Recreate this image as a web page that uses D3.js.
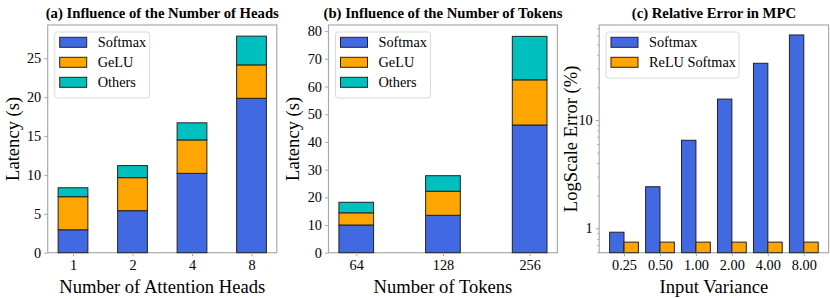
<!DOCTYPE html>
<html>
<head>
<meta charset="utf-8">
<script src="https://cdn.jsdelivr.net/npm/d3@7"></script>
<style>
  body { margin: 0; background: #fff; }
  text { font-family: "Liberation Serif", "Times New Roman", serif; fill: #000; }
</style>
</head>
<body>
<script>
const width = 830;
const height = 299;

// (a) heads
const heads = ['1', '2', '4', '8'];
const headSoftmax = [2.95, 5.4, 10.2, 19.85];
const headGelu = [4.25, 4.25, 4.3, 4.3];
const headOthers = [1.15, 1.55, 2.2, 3.7];

// (b) tokens
const tokens = ['64', '128', '256'];
const tokSoftmax = [10.0, 13.5, 46.1];
const tokGelu = [4.4, 8.7, 16.3];
const tokOthers = [3.8, 5.6, 15.7];

// (c) relative error
const variances = ['0.25', '0.50', '1.00', '2.00', '4.00', '8.00'];
const errSoftmax = [0.92, 2.42, 6.5, 15.6, 33.4, 61];
const errRelu = [0.745, 0.745, 0.745, 0.745, 0.745, 0.745];

const colors = { softmax: '#4169e1', gelu: '#ffa500', others: '#00bfbf' };
const spine = '#aaaaaa';
const edge = '#222';

const svg = d3.select('body').append('svg')
  .attr('width', width)
  .attr('height', height);

const yTop = 25;
const yBottom = 252.7;

function frame(g, x0, x1, title, xlabel, ylabel, ylabX) {
  g.append('rect')
    .attr('x', x0).attr('y', yTop)
    .attr('width', x1 - x0).attr('height', yBottom - yTop)
    .attr('fill', 'none')
    .attr('stroke', spine)
    .attr('stroke-width', 1.2);
  g.append('text')
    .attr('x', (x0 + x1) / 2).attr('y', 18)
    .attr('text-anchor', 'middle')
    .style('font-weight', 'bold')
    .style('font-size', '14.7px')
    .text(title);
  g.append('text')
    .attr('x', (x0 + x1) / 2).attr('y', 293)
    .attr('text-anchor', 'middle')
    .style('font-size', '18.6px')
    .text(xlabel);
  g.append('text')
    .attr('transform', `translate(${ylabX},${(yTop + yBottom) / 2}) rotate(-90)`)
    .attr('text-anchor', 'middle')
    .attr('dy', '0.35em')
    .style('font-size', '18.6px')
    .text(ylabel);
}

function styleAxis(ax) {
  ax.select('.domain').remove();
  ax.selectAll('.tick line').attr('stroke', spine).attr('stroke-width', 1);
  ax.selectAll('.tick text')
    .style('font-family', '"Liberation Serif", serif')
    .style('font-size', '14.3px')
    .attr('fill', '#000');
}

function legend(g, x, y, w, items) {
  const h = items.length * 20 + 6;
  g.append('rect')
    .attr('x', x).attr('y', y).attr('width', w).attr('height', h)
    .attr('rx', 2.5)
    .attr('fill', 'rgba(255,255,255,0.8)')
    .attr('stroke', '#d9d9d9');
  items.forEach((it, i) => {
    const cy = y + 10.3 + i * 20;
    g.append('rect')
      .attr('x', x + 5).attr('y', cy - 5)
      .attr('width', 27).attr('height', 10)
      .attr('fill', it.color)
      .attr('stroke', edge).attr('stroke-width', 1);
    g.append('text')
      .attr('x', x + 43).attr('y', cy)
      .attr('dy', '0.35em')
      .style('font-size', '14.3px')
      .text(it.label);
  });
}

function stacked(g, x0, x1, cats, series, ymax, yticks, barW, ylabX, title, xlabel) {
  const n = cats.length;
  const m = 0.05 * (n - 1 + barW);
  const x = d3.scaleLinear().domain([-barW / 2 - m, n - 1 + barW / 2 + m]).range([x0, x1]);
  const y = d3.scaleLinear().domain([0, ymax]).range([yBottom, yTop]);

  frame(g, x0, x1, title, xlabel, 'Latency (s)', ylabX);

  const stack = d3.stack().keys(['softmax', 'gelu', 'others']);
  const rows = cats.map((c, i) => ({ cat: i, softmax: series[0][i], gelu: series[1][i], others: series[2][i] }));
  const layers = stack(rows);
  g.selectAll('g.layer').data(layers).enter().append('g')
    .attr('fill', d => colors[d.key])
    .selectAll('rect').data(d => d).enter().append('rect')
      .attr('x', d => x(d.data.cat - barW / 2))
      .attr('width', d => x(barW) - x(0))
      .attr('y', d => y(d[1]))
      .attr('height', d => y(d[0]) - y(d[1]))
      .attr('stroke', edge)
      .attr('stroke-width', 1);

  const ax = g.append('g').attr('transform', `translate(${x0},0)`)
    .call(d3.axisLeft(y).tickValues(yticks).tickSize(3.5).tickPadding(3));
  styleAxis(ax);
  const bx = g.append('g').attr('transform', `translate(0,${yBottom})`)
    .call(d3.axisBottom(x).tickValues(d3.range(n)).tickFormat(i => cats[i]).tickSize(3.5).tickPadding(4));
  styleAxis(bx);

  legend(g, x0 + 7, 32, 95, [
    { label: 'Softmax', color: colors.softmax },
    { label: 'GeLU', color: colors.gelu },
    { label: 'Others', color: colors.others }
  ]);
}

stacked(svg.append('g'), 47.7, 276.8, heads, [headSoftmax, headGelu, headOthers],
  29.28, [0, 5, 10, 15, 20, 25], 0.5, 12,
  '(a) Influence of the Number of Heads', 'Number of Attention Heads');

stacked(svg.append('g'), 328.5, 557.4, tokens, [tokSoftmax, tokGelu, tokOthers],
  82.2, [0, 10, 20, 30, 40, 50, 60, 70, 80], 0.4, 292,
  '(b) Influence of the Number of Tokens', 'Number of Tokens');

// (c) grouped log bars
{
  const g = svg.append('g');
  const x0 = 599.2, x1 = 828.6;
  const n = variances.length;
  const bw = 0.4;
  const m = 0.05 * (n - 1 + 2 * bw);
  const x = d3.scaleLinear().domain([-bw - m, n - 1 + bw + m]).range([x0, x1]);
  const y = d3.scaleLog().domain([0.595, 75.4]).range([yBottom, yTop]);

  frame(g, x0, x1, '(c) Relative Error in MPC', 'Input Variance', 'LogScale Error (%)', 570);

  const groups = [
    { key: 'softmax', vals: errSoftmax, off: -bw },
    { key: 'relu', vals: errRelu, off: 0 }
  ];
  groups.forEach(s => {
    g.append('g').selectAll('rect').data(s.vals).enter().append('rect')
      .attr('x', (d, i) => x(i + s.off))
      .attr('width', x(bw) - x(0))
      .attr('y', d => y(d))
      .attr('height', d => yBottom - y(d))
      .attr('fill', s.key === 'softmax' ? colors.softmax : colors.gelu)
      .attr('stroke', edge)
      .attr('stroke-width', 1);
  });

  const minor = [0.6, 0.7, 0.8, 0.9, 2, 3, 4, 5, 6, 7, 8, 9, 20, 30, 40, 50, 60, 70];
  const mx = g.append('g').attr('transform', `translate(${x0},0)`)
    .call(d3.axisLeft(y).tickValues(minor).tickFormat('').tickSize(2));
  styleAxis(mx);
  const ax = g.append('g').attr('transform', `translate(${x0},0)`)
    .call(d3.axisLeft(y).tickValues([1, 10]).tickFormat(d3.format('d')).tickSize(3.5).tickPadding(3));
  styleAxis(ax);
  const bx = g.append('g').attr('transform', `translate(0,${yBottom})`)
    .call(d3.axisBottom(x).tickValues(d3.range(n)).tickFormat(i => variances[i]).tickSize(3.5).tickPadding(4));
  styleAxis(bx);

  legend(g, 606, 32, 133, [
    { label: 'Softmax', color: colors.softmax },
    { label: 'ReLU Softmax', color: colors.gelu }
  ]);
}
</script>
</body>
</html>
